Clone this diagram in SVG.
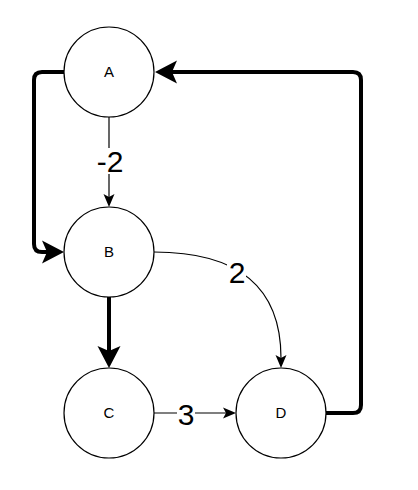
<svg xmlns="http://www.w3.org/2000/svg" width="418" height="490" viewBox="0 0 418 490">
<style>
.node{fill:#fff;stroke:#000;stroke-width:1.2}
.nl{font-family:"Liberation Sans",Arial,sans-serif;font-size:15px;text-anchor:middle;fill:#000}
.thin{fill:none;stroke:#000;stroke-width:1.2}
.thick{fill:none;stroke:#000;stroke-width:4}
.el{font-family:"Liberation Sans",Arial,sans-serif;font-size:30px;text-anchor:middle;fill:#000}
.bg{fill:#fff}
</style>
<defs>
<marker id="ah" markerUnits="userSpaceOnUse" markerWidth="30" markerHeight="30" refX="0" refY="0" orient="auto" overflow="visible">
<path d="M10,0 L-3,-5.5 L0,0 L-3,5.5 Z" fill="#000"/>
</marker>
<marker id="ahb" markerUnits="userSpaceOnUse" markerWidth="40" markerHeight="40" refX="0" refY="0" orient="auto" overflow="visible">
<path d="M17,0 L-5,-11.5 L0,0 L-5,11.5 Z" fill="#000"/>
</marker>
</defs>
<g id="connectors">
<path class="thin" d="M109,117 L109,197" marker-end="url(#ah)"/>
<rect class="bg" x="96" y="148" width="28" height="26"/>
<text class="el" x="110" y="172">-2</text>
<path class="thin" d="M154,252 Q281,252 281,358" marker-end="url(#ah)"/>
<rect class="bg" x="227" y="259" width="19" height="25"/>
<text class="el" x="237" y="283">2</text>
<path class="thin" d="M154,413 L226,413" marker-end="url(#ah)"/>
<rect class="bg" x="177" y="401" width="18" height="25"/>
<text class="el" x="186" y="425">3</text>
<path class="thick" d="M64,72 L42,72 Q34,72 34,80 L34,244 Q34,252 42,252 L47,252" marker-end="url(#ahb)"/>
<path class="thick" d="M109,297 L109,351" marker-end="url(#ahb)"/>
<path class="thick" d="M326,413 L353,413 Q361,413 361,405 L361,80 Q361,72 353,72 L172,72" marker-end="url(#ahb)"/>
</g>
<g id="node-A"><circle class="node" cx="109" cy="72" r="45"/><text class="nl" x="109" y="77">A</text></g>
<g id="node-B"><circle class="node" cx="109" cy="252" r="45"/><text class="nl" x="109" y="257">B</text></g>
<g id="node-C"><circle class="node" cx="109" cy="413" r="45"/><text class="nl" x="109" y="418">C</text></g>
<g id="node-D"><circle class="node" cx="281" cy="413" r="45"/><text class="nl" x="281" y="418">D</text></g>
</svg>
